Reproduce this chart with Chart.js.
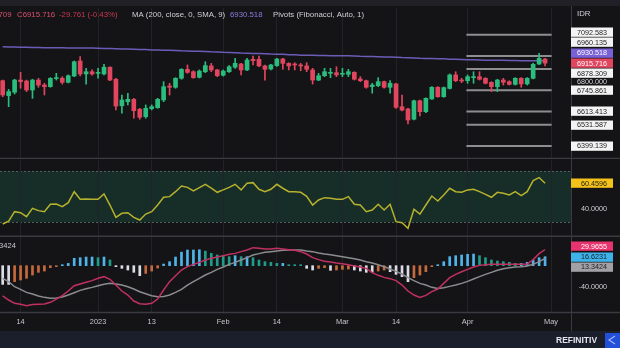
<!DOCTYPE html>
<html>
<head>
<meta charset="utf-8">
<script src="https://cdn.jsdelivr.net/npm/chart.js@4.4.1/dist/chart.umd.min.js"></script>
<style>
  html, body { margin: 0; padding: 0; background: #141417; }
  #wrap { position: relative; width: 620px; height: 348px; overflow: hidden; background: #141417; }
  canvas { position: absolute; left: 0; }
</style>
</head>
<body>
<div id="wrap">
  <canvas id="priceChart" width="620" height="159" style="top:0"></canvas>
  <canvas id="rsiChart" width="620" height="78" style="top:159px"></canvas>
  <canvas id="macdChart" width="620" height="111" style="top:237px"></canvas>
</div>
<script>
// daily bars, mid Dec 2022 .. end Apr 2023
const opens = [6806, 6713, 6734, 6810, 6804, 6748, 6810, 6779, 6769, 6819,
  6821, 6796, 6835, 6929, 6848, 6862, 6852, 6848, 6890, 6815,
  6650, 6675, 6690, 6628, 6582, 6632, 6638, 6686, 6773, 6765,
  6821, 6877, 6862, 6827, 6862, 6898, 6873, 6840, 6862, 6890,
  6910, 6873, 6939, 6939, 6898, 6879, 6900, 6941, 6914, 6910,
  6904, 6898, 6873, 6810, 6837, 6852, 6856, 6846, 6846, 6858,
  6817, 6806, 6769, 6775, 6800, 6765, 6786, 6644, 6630, 6566,
  6681, 6613, 6692, 6765, 6706, 6758, 6842, 6810, 6806, 6825,
  6831, 6821, 6796, 6769, 6810, 6800, 6783, 6821, 6786, 6821,
  6910, 6941];
const highs = [6810, 6752, 6815, 6858, 6810, 6815, 6821, 6790, 6825, 6852,
  6831, 6842, 6929, 6956, 6883, 6873, 6883, 6908, 6893, 6821,
  6717, 6728, 6696, 6634, 6655, 6655, 6696, 6800, 6790, 6825,
  6881, 6904, 6868, 6873, 6924, 6914, 6877, 6873, 6901, 6946,
  6914, 6946, 6960, 6960, 6904, 6908, 6946, 6946, 6918, 6918,
  6914, 6918, 6883, 6852, 6883, 6883, 6893, 6883, 6877, 6862,
  6831, 6810, 6790, 6825, 6804, 6806, 6790, 6717, 6634, 6686,
  6686, 6700, 6769, 6769, 6767, 6848, 6862, 6821, 6842, 6862,
  6862, 6825, 6800, 6815, 6821, 6806, 6825, 6825, 6825, 6914,
  6977, 6946];
const lows = [6706, 6644, 6723, 6759, 6738, 6696, 6765, 6717, 6765, 6810,
  6785, 6792, 6831, 6835, 6785, 6841, 6821, 6842, 6806, 6624,
  6603, 6655, 6572, 6566, 6572, 6624, 6634, 6675, 6717, 6759,
  6815, 6852, 6821, 6823, 6856, 6862, 6831, 6835, 6857, 6883,
  6842, 6868, 6904, 6893, 6810, 6873, 6895, 6877, 6873, 6873,
  6868, 6862, 6785, 6806, 6831, 6825, 6831, 6831, 6831, 6810,
  6800, 6759, 6728, 6769, 6759, 6728, 6634, 6617, 6536, 6561,
  6586, 6607, 6690, 6703, 6703, 6754, 6800, 6794, 6790, 6790,
  6810, 6786, 6738, 6738, 6779, 6779, 6779, 6765, 6779, 6817,
  6906, 6898.709];
const closes = [6717, 6738, 6810, 6800, 6748, 6810, 6779, 6769, 6821, 6825,
  6796, 6837, 6924, 6848, 6862, 6848, 6856, 6890, 6810, 6648,
  6686, 6690, 6619, 6578, 6634, 6644, 6690, 6769, 6765, 6821,
  6877, 6858, 6825, 6866, 6900, 6873, 6837, 6866, 6893, 6914,
  6873, 6935, 6931, 6898, 6877, 6904, 6941, 6914, 6898, 6904,
  6898, 6877, 6810, 6837, 6862, 6858, 6842, 6852, 6862, 6815,
  6806, 6765, 6779, 6800, 6765, 6790, 6640, 6623, 6561, 6681,
  6613, 6696, 6765, 6706, 6763, 6842, 6806, 6804, 6831, 6831,
  6815, 6790, 6769, 6810, 6796, 6783, 6821, 6786, 6821, 6908,
  6945.477, 6915.716];

// 200-day simple moving average of the close
const sma200 = [7017, 7016, 7016, 7015, 7014, 7013, 7013, 7012, 7012, 7011,
  7011, 7010, 7010, 7009, 7009, 7009, 7008, 7007, 7006, 7005,
  7004, 7003, 7002, 7001, 7000, 6998, 6997, 6996, 6995, 6994,
  6992, 6991, 6990, 6989, 6988, 6986, 6985, 6983, 6982, 6980,
  6978, 6977, 6976, 6975, 6974, 6972, 6971, 6970, 6968, 6967,
  6965, 6964, 6964, 6963, 6963, 6962, 6962, 6962, 6961, 6960,
  6958, 6957, 6956, 6955, 6954, 6953, 6952, 6950, 6949, 6948,
  6946, 6945, 6944, 6943, 6942, 6940, 6939, 6938, 6937, 6936,
  6935, 6934, 6934, 6933, 6933, 6932, 6932, 6931, 6931, 6931,
  6930.8, 6930.518];

// Fibonacci pivots for the current month: R3, R2, R1, P, S1, S2, S3
const pivotLevels = [7092.583, 6960.135, 6878.309, 6745.861, 6613.413, 6531.587, 6399.139];
const pivotSpan = [77.8, 92.1];

const rsi = [28.5, 30.8, 38.2, 37.4, 34.2, 40.8, 39, 38.2, 44, 44.2,
  42.1, 45.3, 53.9, 47.9, 48.2, 47.9, 47.9, 52.1, 43.4, 33.7,
  36.9, 37.4, 33.7, 31.6, 36.3, 38.2, 43.4, 49.5, 50, 53.9,
  58.4, 57.3, 54.5, 57.1, 59.7, 56.6, 53.4, 55.3, 57.3, 59.7,
  55.3, 60.5, 61, 55.8, 53.9, 55.8, 59.7, 56.6, 53.9, 53.9,
  53.4, 50.3, 43.4, 47.4, 49.2, 48.7, 47.9, 47.9, 50, 44,
  43.4, 38.2, 39.5, 44, 39.5, 44, 30.3, 29.5, 25.1, 40.1,
  36.3, 43.4, 50.5, 46.6, 51.3, 56.6, 53.9, 53.4, 55.3, 55.8,
  53.9, 51.8, 49.5, 53.4, 52.6, 51.3, 53.9, 50.8, 53.9, 62.6,
  65, 60.4596];

const macd = [-56, -63.5, -69.7, -71.5, -74, -72, -71.5, -71, -67.8, -61.7,
  -55.5, -46.9, -37, -33.9, -30.8, -27.7, -23.4, -20.3, -25.2, -35.8,
  -46.9, -54.3, -65.4, -70.4, -71.5, -69.7, -61.7, -45, -29.6, -18.5,
  -8, -1.8, 2.5, 6.2, 10.5, 13.6, 16, 18.5, 21, 22.8,
  26, 29, 33.4, 32.2, 30.9, 30.9, 32.2, 30.9, 29.7, 28.4,
  26, 21.6, 14.9, 11.2, 8.1, 6.8, 5, 3.7, 1.9, -0.6,
  -2.5, -4.9, -12.9, -17.8, -21.6, -24, -27.7, -35.8, -46.9, -54.3,
  -58.6, -54.9, -48.1, -43.2, -32.7, -22.2, -16, -11.1, -6.8, -2.5,
  0.6, 1.9, 2.5, 2.5, 2.5, 2.5, 2.5, 2.5, 3.1, 11.2,
  22.3, 29.9655];
const macdSignal = [-23.4, -29.6, -38.9, -43.8, -49.4, -52.5, -56.1, -58.6, -60.4, -59.9,
  -58, -54.3, -50, -45.7, -42.6, -40.1, -37, -34.5, -32.7, -33.9,
  -35.8, -38.9, -43.2, -48.1, -51.9, -55.5, -57.4, -56.8, -54.3, -49.4,
  -43.8, -35.8, -29.6, -23.4, -17.3, -12.3, -6.8, -2.5, 2.5, 6.2,
  10.5, 14.9, 19.8, 22.3, 24.7, 26, 27.2, 28.4, 29, 29,
  29, 27.2, 26, 23.5, 21.6, 20.4, 18.5, 16.7, 14.9, 13,
  10.5, 7.4, 5, 1.9, -1.8, -6.2, -10.5, -15.4, -22.2, -27.7,
  -32.7, -35.8, -40.1, -42, -40.7, -38.3, -35.8, -32.7, -29, -24.7,
  -20.3, -16, -12.3, -8.6, -5.6, -3.7, -2.5, -1.8, -0.6, 2.5,
  7.5, 13.3424];
const macdHist = [-34.6, -34.6, -29.6, -26.5, -23.4, -17.3, -12.3, -9.9, -3.7, -1.2,
  0.6, 4.3, 13.6, 14.8, 16, 16, 14.8, 16, 10.5, -1.2,
  -4.9, -8, -12.3, -18.5, -14.2, -9.9, -4.3, 3, 7.4, 16,
  25, 29, 29, 29.5, 27, 22.8, 19.8, 18.5, 16.7, 18.5,
  16.7, 16.7, 14.8, 10.5, 7.4, 6.2, 4.3, 4.3, 1.2, 0.6,
  0.3, -4.9, -8, -4.9, -3.7, -8.6, -8, -6.8, -6.2, -8,
  -9.9, -12.3, -12.3, -9.9, -8, -11.1, -16, -20.3, -29.6, -22.2,
  -17.3, -11.1, -1.8, 0.6, 7.4, 16.7, 18.5, 19.8, 21, 21.5,
  18.5, 14.8, 10.5, 8.6, 7.4, 6.2, 4.3, 4.3, 6.2, 10.5,
  14.8, 16.6231];

const dateTicks = [3, 16, 25, 37, 46, 57, 66, 78, 92];
const dateLabels = ['14', '2023', '13', 'Feb', '14', 'Mar', '14', 'Apr', 'May'];

const BG = '#141417';
const LINE = '#3a3a41';
const UP = '#2bbd7e';
const DOWN = '#e2465f';
const FONT = '"Liberation Sans", Arial, sans-serif';
const AXIS_X = 571;
const X_MIN = -0.45, X_MAX = 95.35;

function xAxis() {
  return {
    type: 'linear', min: X_MIN, max: X_MAX, offset: false,
    afterBuildTicks: s => { s.ticks = dateTicks.map(v => ({ value: v })); },
    ticks: { display: false },
    grid: { color: '#222228', lineWidth: 1, drawTicks: false, offset: false },
    border: { display: false }
  };
}

function baseOptions(padding, yMin, yMax) {
  return {
    responsive: false, animation: false, events: [],
    layout: { padding },
    plugins: { legend: { display: false }, tooltip: { enabled: false } },
    scales: { x: xAxis(), y: { display: false, min: yMin, max: yMax } }
  };
}

// stack value tags on the right axis so they don't overlap
function layoutTags(tags, scale, h) {
  tags.forEach(t => { t.y = scale.getPixelForValue(t.v); });
  const a = tags.find(t => t.anchor);
  const above = tags.filter(t => t !== a && t.y <= a.y).sort((p, q) => q.y - p.y);
  const below = tags.filter(t => t !== a && t.y > a.y).sort((p, q) => p.y - q.y);
  let prev = a.y;
  above.forEach(t => { t.y = Math.min(t.y, prev - h); prev = t.y; });
  prev = a.y;
  below.forEach(t => { t.y = Math.max(t.y, prev + h); prev = t.y; });
  return tags;
}

function drawTag(ctx, t, h) {
  ctx.fillStyle = t.bg;
  ctx.fillRect(AXIS_X, Math.round(t.y - h / 2) + 0.5, 42, h - 1);
  ctx.fillStyle = t.fg;
  ctx.font = '7.2px ' + FONT;
  ctx.textAlign = 'right';
  ctx.textBaseline = 'middle';
  ctx.fillText(t.text, 607, t.y + 0.5);
}

function tickText(ctx, text, y) {
  ctx.fillStyle = '#d2d2d6';
  ctx.font = '7.2px ' + FONT;
  ctx.textAlign = 'right';
  ctx.textBaseline = 'middle';
  ctx.fillText(text, 607, y);
}

function hLine(ctx, y, x0, x1, color, w) {
  ctx.strokeStyle = color; ctx.lineWidth = w || 1;
  ctx.beginPath(); ctx.moveTo(x0, y); ctx.lineTo(x1, y); ctx.stroke();
}
function vLine(ctx, x, y0, y1, color, w) {
  ctx.strokeStyle = color; ctx.lineWidth = w || 1;
  ctx.beginPath(); ctx.moveTo(x, y0); ctx.lineTo(x, y1); ctx.stroke();
}

const last = closes.length - 1;
const candleColors = opens.map((o, i) => closes[i] >= o ? UP : DOWN);

const pricePanel = {
  id: 'pricePanel',
  afterDraw(chart) {
    const ctx = chart.ctx;
    const y = chart.scales.y;
    ctx.save();
    ctx.fillStyle = '#202026';
    ctx.fillRect(0, 0, 620, 6);
    vLine(ctx, AXIS_X + 0.5, 6, 159, LINE);
    hLine(ctx, 158.5, 0, 620, LINE, 1.5);

    // legend row
    const chg = closes[last] - closes[last - 1];
    const pct = chg / closes[last - 1] * 100;
    ctx.font = '7.8px ' + FONT;
    ctx.textBaseline = 'middle';
    ctx.textAlign = 'right';
    ctx.fillStyle = '#d8526a';
    ctx.fillText('L' + lows[last].toFixed(3), 11.5, 15);
    ctx.textAlign = 'left';
    ctx.fillText('C' + closes[last].toFixed(3), 17, 15);
    ctx.fillStyle = '#c93850';
    ctx.fillText(chg.toFixed(3) + ' (' + pct.toFixed(2) + '%)', 59, 15);
    ctx.fillStyle = '#d0d0d6';
    ctx.fillText('MA (200, close, 0, SMA, 9)', 132, 15);
    ctx.fillStyle = '#8c7ce0';
    ctx.fillText(sma200[last].toFixed(3), 230, 15);
    ctx.fillStyle = '#d0d0d6';
    ctx.fillText('Pivots (Fibonacci, Auto, 1)', 273, 15);
    ctx.fillText('IDR', 577, 14);

    tickText(ctx, '6800.000', y.getPixelForValue(6800));

    const tags = [
      { v: closes[last], bg: DOWN, fg: '#ffffff', anchor: true },
      { v: sma200[last], bg: '#7a60d6', fg: '#ffffff' }
    ].concat(pivotLevels.map(v => ({ v, bg: '#f3f3f3', fg: '#222226' })));
    tags.forEach(t => { t.text = t.v.toFixed(3); });
    layoutTags(tags, y, 10.3).forEach(t => drawTag(ctx, t, 10.3));
    ctx.restore();
  }
};

new Chart(document.getElementById('priceChart'), {
  type: 'bar',
  data: {
    datasets: [
      {
        type: 'bar', order: 1, grouped: false, barThickness: 4, minBarLength: 1,
        data: opens.map((o, i) => ({ x: i, y: [o, closes[i]] })),
        backgroundColor: candleColors
      },
      {
        type: 'bar', order: 2, grouped: false, barThickness: 1,
        data: lows.map((l, i) => ({ x: i, y: [l, highs[i]] })),
        backgroundColor: candleColors
      },
      {
        type: 'line', order: 3, borderColor: '#6c5cb8', borderWidth: 1.5, pointRadius: 0,
        data: sma200.map((v, i) => ({ x: i, y: v }))
      }
    ].concat(pivotLevels.map(lvl => ({
      type: 'line', order: 4, borderColor: '#8e8e90', borderWidth: 2, pointRadius: 0,
      data: [{ x: pivotSpan[0], y: lvl }, { x: pivotSpan[1], y: lvl }]
    })))
  },
  options: baseOptions({ top: 8, bottom: 1, left: 0, right: 620 - AXIS_X }, 6324.4, 7258.9),
  plugins: [pricePanel]
});

const rsiPanel = {
  id: 'rsiPanel',
  beforeDraw(chart) {
    const ctx = chart.ctx;
    const y = chart.scales.y;
    const a = chart.chartArea;
    const y70 = y.getPixelForValue(70), y30 = y.getPixelForValue(30);
    ctx.save();
    ctx.fillStyle = '#172d28';
    ctx.fillRect(a.left, y70, a.right - a.left, y30 - y70);
    ctx.setLineDash([2, 2]);
    hLine(ctx, Math.round(y70) + 0.5, a.left, a.right, '#4d625b');
    hLine(ctx, Math.round(y30) + 0.5, a.left, a.right, '#4d625b');
    ctx.restore();
  },
  afterDraw(chart) {
    const ctx = chart.ctx;
    const y = chart.scales.y;
    ctx.save();
    vLine(ctx, AXIS_X + 0.5, 0, 78, LINE);
    hLine(ctx, 77.25, 0, 620, LINE, 1.5);
    tickText(ctx, '40.0000', y.getPixelForValue(40));
    const tag = { v: rsi[last], bg: '#f4c21a', fg: '#1c1c1c', anchor: true };
    tag.text = tag.v.toFixed(4);
    layoutTags([tag], y, 10.3).forEach(t => drawTag(ctx, t, 10.3));
    ctx.restore();
  }
};

new Chart(document.getElementById('rsiChart'), {
  type: 'line',
  data: {
    datasets: [{
      borderColor: '#b6b22e', borderWidth: 1.5, pointRadius: 0,
      data: rsi.map((v, i) => ({ x: i, y: v }))
    }]
  },
  options: baseOptions({ top: 1, bottom: 1, left: 0, right: 620 - AXIS_X }, 19.06, 78.8),
  plugins: [rsiPanel]
});

const histColors = macdHist.map((v, i) => {
  const prev = i > 0 ? macdHist[i - 1] : v;
  if (v >= 0) return v >= prev ? '#4fb4ea' : '#1f9c8a';
  return v < prev || v === prev ? '#dcdce6' : '#c66a3d';
});

const macdPanel = {
  id: 'macdPanel',
  afterDraw(chart) {
    const ctx = chart.ctx;
    const x = chart.scales.x, y = chart.scales.y;
    ctx.save();
    vLine(ctx, AXIS_X + 0.5, 0, 94, LINE);
    hLine(ctx, 75.5, 0, 620, LINE, 1.5);

    ctx.font = '7.6px ' + FONT;
    ctx.fillStyle = '#c8c8ce';
    ctx.textBaseline = 'middle';
    ctx.textAlign = 'right';
    ctx.fillText(macdSignal[last].toFixed(4), 16, 9);

    tickText(ctx, '-40.0000', y.getPixelForValue(-40));
    const tags = [
      { v: macd[last], bg: '#e8346e', fg: '#ffffff' },
      { v: macdHist[last], bg: '#3fb2ea', fg: '#10202a', anchor: true },
      { v: macdSignal[last], bg: '#a2a2a6', fg: '#1c1c1e' }
    ];
    tags.forEach(t => { t.text = t.v.toFixed(4); });
    layoutTags(tags, y, 10.3).forEach(t => drawTag(ctx, t, 10.3));

    // date axis
    ctx.font = '7.4px ' + FONT;
    ctx.fillStyle = '#c6c6cc';
    ctx.textAlign = 'center';
    dateTicks.forEach((v, i) => ctx.fillText(dateLabels[i], x.getPixelForValue(v), 85));

    // footer
    ctx.fillStyle = '#1b1e2b';
    ctx.fillRect(0, 94, 620, 17);
    ctx.font = 'bold 8.5px ' + FONT;
    ctx.fillStyle = '#e6e6ee';
    ctx.textAlign = 'left';
    ctx.fillText('REFINITIV', 556, 103.5);
    ctx.fillStyle = '#2250d8';
    ctx.fillRect(605, 96, 15, 15);
    ctx.strokeStyle = '#9fb4ff';
    ctx.lineWidth = 1.2;
    ctx.beginPath();
    ctx.moveTo(615, 99); ctx.lineTo(609, 103); ctx.lineTo(615, 107);
    ctx.stroke();
    ctx.restore();
  }
};

new Chart(document.getElementById('macdChart'), {
  type: 'bar',
  data: {
    datasets: [
      {
        type: 'line', order: 1, borderColor: '#c2305f', borderWidth: 1.5, pointRadius: 0,
        data: macd.map((v, i) => ({ x: i, y: v }))
      },
      {
        type: 'line', order: 2, borderColor: '#8c8c90', borderWidth: 1.5, pointRadius: 0,
        data: macdSignal.map((v, i) => ({ x: i, y: v }))
      },
      {
        type: 'bar', order: 3, grouped: false, barThickness: 2, minBarLength: 1,
        data: macdHist.map((v, i) => ({ x: i, y: v })),
        backgroundColor: histColors
      }
    ]
  },
  options: baseOptions({ top: 0, bottom: 36, left: 0, right: 620 - AXIS_X }, -85.7, 53.1),
  plugins: [macdPanel]
});
</script>
</body>
</html>
